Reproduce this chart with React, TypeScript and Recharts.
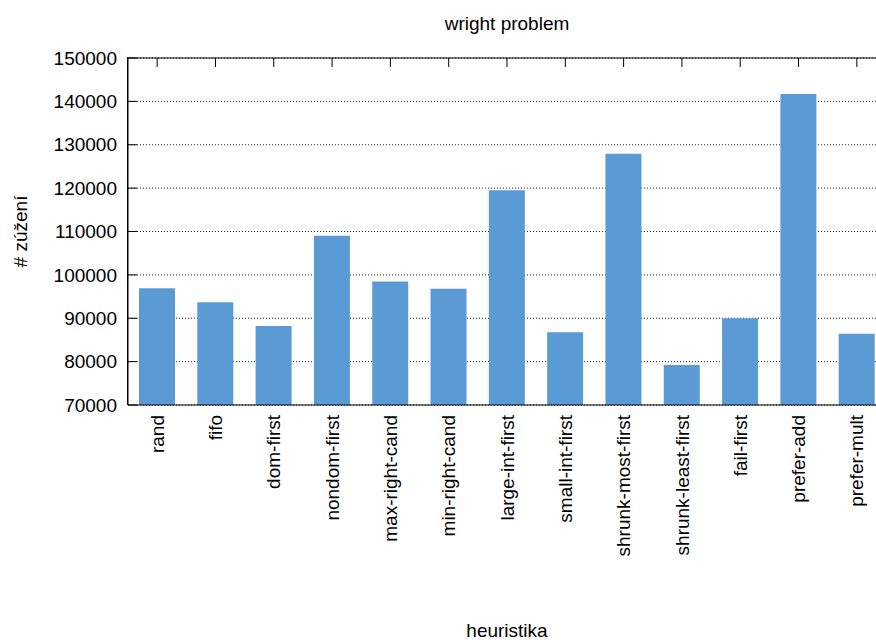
import { BarChart, Bar, XAxis, YAxis, CartesianGrid } from "recharts";

const heuristics = [
  "rand",
  "fifo",
  "dom-first",
  "nondom-first",
  "max-right-cand",
  "min-right-cand",
  "large-int-first",
  "small-int-first",
  "shrunk-most-first",
  "shrunk-least-first",
  "fail-first",
  "prefer-add",
  "prefer-mult",
];

const shrinkCounts = [
  96900, 93700, 88200, 109000, 98500, 96800, 119500, 86800, 127900, 79200, 90000, 141700, 86400,
];

const yTicks = [70000, 80000, 90000, 100000, 110000, 120000, 130000, 140000, 150000];

const chartData = heuristics.map((name, i) => ({ name, total: shrinkCounts[i] }));

const FONT = "'Liberation Sans', Arial, sans-serif";

// popisky na ose x svisle, konec textu nahoře u osy
const RotatedTick = (props: any) => {
  const { x, y, payload } = props;
  const ty = y + 2;
  return (
    <text
      x={x}
      y={ty}
      transform={`rotate(-90, ${x}, ${ty})`}
      textAnchor="end"
      dy="0.35em"
      fontSize={19}
      fontFamily={FONT}
      fill="#000"
    >
      {payload.value}
    </text>
  );
};

// osa y: ryska dovnitř grafu + popisek vlevo
const YTick = (props: any) => {
  const { x, y, payload } = props;
  return (
    <g>
      <line x1={x} x2={x + 9} y1={y} y2={y} stroke="#000" />
      <text
        x={x - 11}
        y={y}
        dy="0.35em"
        textAnchor="end"
        fontSize={19}
        fontFamily={FONT}
        fill="#000"
      >
        {payload.value}
      </text>
    </g>
  );
};

// horní okraj: jen rysky dovnitř
const TopTick = (props: any) => {
  const { x, y } = props;
  return <line x1={x} x2={x} y1={y} y2={y + 9} stroke="#000" />;
};

const YTitle = (props: any) => {
  const { viewBox } = props;
  const cy = viewBox.y + viewBox.height / 2;
  return (
    <text
      x={27}
      y={cy}
      transform={`rotate(-90, 27, ${cy})`}
      textAnchor="middle"
      fontSize={19}
      fontFamily={FONT}
      fill="#000"
    >
      # zúžení
    </text>
  );
};

export default function App() {
  return (
    <div
      style={{
        position: "absolute",
        left: 0,
        top: 0,
        width: 876,
        height: 640,
        overflow: "hidden",
        background: "#fff",
        fontFamily: FONT,
      }}
    >
      <div
        style={{
          position: "absolute",
          left: 0,
          width: 1014,
          top: 14,
          textAlign: "center",
          fontSize: 19,
          lineHeight: "19px",
          color: "#000",
        }}
      >
        wright problem
      </div>

      <BarChart
        width={900}
        height={640}
        data={chartData}
        margin={{ top: 57, right: 14, bottom: 0, left: 0 }}
        barSize={36}
      >
        <CartesianGrid vertical={false} stroke="#222" strokeDasharray="1 2" />
        <XAxis
          dataKey="name"
          interval={0}
          height={235}
          tickLine={false}
          axisLine={{ stroke: "#000" }}
          tick={<RotatedTick />}
        />
        <XAxis
          xAxisId="top"
          orientation="top"
          dataKey="name"
          height={1}
          interval={0}
          tickSize={0}
          tickMargin={0}
          tickLine={false}
          axisLine={{ stroke: "#000" }}
          tick={<TopTick />}
        />
        <YAxis
          width={128}
          domain={[70000, 150000]}
          ticks={yTicks}
          interval={0}
          tickSize={0}
          tickMargin={0}
          tickLine={false}
          axisLine={{ stroke: "#000" }}
          tick={<YTick />}
          label={<YTitle />}
        />
        <Bar dataKey="total" fill="#5b9bd5" isAnimationActive={false} />
      </BarChart>

      {/* levý okraj rámu */}
      <div
        style={{
          position: "absolute",
          left: 127,
          top: 57,
          width: 1,
          height: 348,
          background: "#000",
        }}
      />

      <div
        style={{
          position: "absolute",
          left: 0,
          width: 1014,
          top: 621,
          textAlign: "center",
          fontSize: 19,
          lineHeight: "19px",
          color: "#000",
        }}
      >
        heuristika
      </div>
    </div>
  );
}
